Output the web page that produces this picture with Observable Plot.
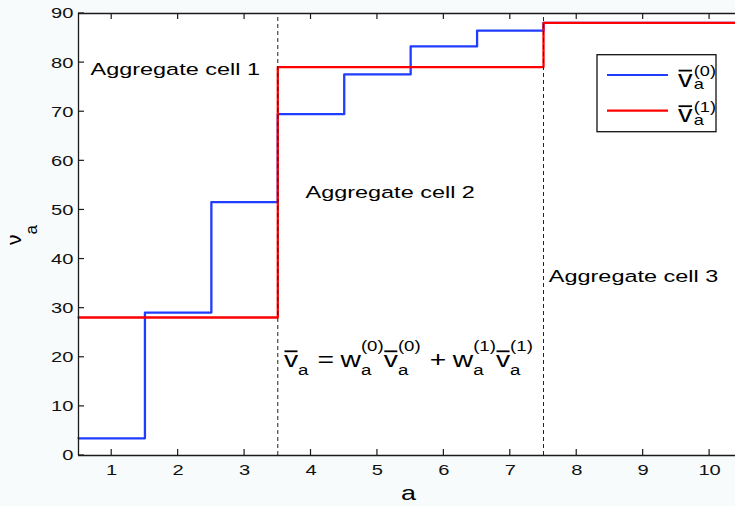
<!DOCTYPE html>
<html>
<head>
<meta charset="utf-8">
<script src="https://cdn.jsdelivr.net/npm/d3@7"></script>
<script src="https://cdn.jsdelivr.net/npm/@observablehq/plot@0.6"></script>
<style>
  html, body { margin: 0; padding: 0; background: #f7fbfc; overflow: hidden; }
</style>
</head>
<body>
<div id="chart"></div>
<script>
// ---------------- data ----------------
const cells = [1, 2, 3, 4, 5, 6, 7, 8, 9, 10];
const v0 = [3.5, 29.1, 51.6, 69.5, 77.6, 83.3, 86.5, 88.1, 88.1, 88.1];   // \bar v_a^{(0)}
const v1 = [28.1, 28.1, 28.1, 79.1, 79.1, 79.1, 79.1, 88.1, 88.1, 88.1];  // \bar v_a^{(1)}
const cellBounds = [3.5, 7.5];
const xTicks = [1, 2, 3, 4, 5, 6, 7, 8, 9, 10];
const yTicks = [0, 10, 20, 30, 40, 50, 60, 70, 80, 90];
const cellLabels = ["Aggregate cell 1", "Aggregate cell 2", "Aggregate cell 3"];
const seriesSup = ["(0)", "(1)"];

const FONT = "'Liberation Sans', Arial, Helvetica, sans-serif";
const BLUE = "#1f3cff", RED = "#ff0000";

function steps(vals) {
  const pts = vals.map((v, i) => ({a: cells[i] - 0.5, v}));
  pts.push({a: cells[cells.length - 1] + 0.5, v: vals[vals.length - 1]});
  return pts;
}

// text measurement helper
const measureSvg = d3.select(document.body).append("svg")
  .attr("width", 1).attr("height", 1)
  .style("position", "absolute").style("left", "-9999px");
function tw(str, size) {
  const t = measureSvg.append("text").attr("font-family", FONT).attr("font-size", size)
    .attr("text-anchor", "start").text(str);
  const w = t.node().getComputedTextLength();
  t.remove();
  return w;
}

// simple TeX-like layout: base glyph with optional overline, sub and sup
function mathGroup(tokens, o) {
  const g = d3.create("svg:g").attr("font-family", FONT).attr("fill", "#000").attr("text-anchor", "start");
  let x = 0;
  for (const tk of tokens) {
    x += tk.pre || 0;
    const size = tk.size || o.size;
    const w = tw(tk.t, size);
    g.append("text").attr("x", x).attr("y", 0).attr("font-size", size).text(tk.t);
    if (tk.over) {
      g.append("line").attr("x1", x + w * 0.04).attr("x2", x + w * 0.96)
        .attr("y1", o.overY).attr("y2", o.overY)
        .attr("stroke", "#000").attr("stroke-width", 1.8);
    }
    let sw = 0;
    if (tk.sub) {
      g.append("text").attr("x", x + w + (o.subDx || 0)).attr("y", o.subDy).attr("font-size", o.small).text(tk.sub);
      sw = Math.max(sw, tw(tk.sub, o.small) + (o.subDx || 0));
    }
    if (tk.sup) {
      g.append("text").attr("x", x + w + (o.supDx || 0)).attr("y", o.supDy).attr("font-size", o.small).text(tk.sup);
      sw = Math.max(sw, tw(tk.sup, o.small) + (o.supDx || 0));
    }
    x += w + sw + (tk.post || 0);
  }
  return {g, width: x};
}

function place(parent, m, x0, y0, targetWidth) {
  const k = targetWidth ? targetWidth / m.width : 1;
  parent.append(() => m.g.node()).attr("transform", `translate(${x0},${y0}) scale(${k},1)`);
}

// decorations drawn through the plot's scales
function decorations(index, scales, values, dims) {
  const X = scales.x, Y = scales.y;
  const root = d3.create("svg:g").attr("class", "deco").attr("text-anchor", "start");
  const tick = 6;
  const top = Y(90), bottom = Y(0), left = X(0.5);
  for (const t of xTicks) {
    root.append("line").attr("x1", X(t)).attr("x2", X(t)).attr("y1", bottom).attr("y2", bottom - tick)
      .attr("stroke", "#1a1a1a").attr("stroke-width", 1.2);
    root.append("line").attr("x1", X(t)).attr("x2", X(t)).attr("y1", top).attr("y2", top + tick)
      .attr("stroke", "#1a1a1a").attr("stroke-width", 1.2);
  }
  for (const t of yTicks) {
    root.append("line").attr("x1", left).attr("x2", left + tick).attr("y1", Y(t)).attr("y2", Y(t))
      .attr("stroke", "#1a1a1a").attr("stroke-width", 1.2);
  }

  // legend
  const bx = 597, by = 54.7, bw = 119, bh = 77;
  root.append("rect").attr("x", bx).attr("y", by).attr("width", bw).attr("height", bh)
    .attr("fill", "white").attr("stroke", "#111").attr("stroke-width", 1.3);
  const colors = [BLUE, RED];
  const rowY = [75, 110.7];
  const baseY = [86.6, 122.2];
  seriesSup.forEach((sup, i) => {
    root.append("line").attr("x1", 607).attr("x2", 668).attr("y1", rowY[i]).attr("y2", rowY[i])
      .attr("stroke", colors[i]).attr("stroke-width", 2.2);
    const m = mathGroup([{t: "v", over: true, sub: "a", sup}],
      {size: 24, small: 15, subDy: 2.6, supDy: -10.5, overY: -16, supDx: 1, subDx: 1});
    place(root, m, 678, baseY[i], 38);
  });

  // equation
  const eq = mathGroup([
    {t: "v", over: true, sub: "a"},
    {t: "=", pre: 7, post: 5},
    {t: "w", sub: "a", sup: "(0)"},
    {t: "v", over: true, sub: "a", sup: "(0)"},
    {t: "+", pre: 7, post: 5},
    {t: "w", sub: "a", sup: "(1)"},
    {t: "v", over: true, sub: "a", sup: "(1)"}
  ], {size: 22, small: 14.5, subDy: 8.3, supDy: -16.5, overY: -15.8});
  place(root, eq, X(3.6), Y(17.9), 249);

  // axis labels
  root.append("text").attr("font-family", FONT).attr("font-size", 20).attr("fill", "#000")
    .attr("text-anchor", "middle")
    .attr("transform", `translate(${(X(0.5) + dims.width) / 2 + 2},500) scale(1.35,1)`).text("a");
  const yl = root.append("g").attr("font-family", FONT).attr("fill", "#000").attr("text-anchor", "start")
    .attr("transform", "translate(20.8,245) rotate(-90)");
  yl.append("text").attr("font-size", 21).text("ν");
  yl.append("text").attr("font-size", 17).attr("x", tw("ν", 21)).attr("y", 16.3).text("a");
  return root.node();
}

const chart = Plot.plot({
  width: 735,
  height: 506,
  marginLeft: 78,
  marginRight: 0,
  marginTop: 13,
  marginBottom: 51,
  x: {domain: [0.5, 10.39], label: null},
  y: {domain: [0, 90], label: null},
  style: {background: "#f7fbfc", fontFamily: FONT, fontSize: "15.5px", color: "#111", overflow: "hidden"},
  marks: [
    Plot.frame({fill: "white", stroke: null}),
    Plot.line(steps(v0), {x: "a", y: "v", curve: "step-after", stroke: BLUE, strokeWidth: 2.3}),
    Plot.line(steps(v1), {x: "a", y: "v", curve: "step-after", stroke: RED, strokeWidth: 2.3}),
    Plot.ruleX(cellBounds, {y1: 0, y2: 90, stroke: "#222", strokeWidth: 1, strokeDasharray: "4,3"}),
    Plot.ruleY([0, 90], {stroke: "#1a1a1a", strokeWidth: 1.3}),
    Plot.ruleX([0.5], {stroke: "#1a1a1a", strokeWidth: 1.3}),
    Plot.axisX(xTicks, {anchor: "bottom", tickSize: 0, tickPadding: 8, label: null}),
    Plot.axisY(yTicks, {anchor: "left", tickSize: 0, tickPadding: 5, label: null}),
    Plot.text(cellLabels, {
      x: [0.681, 3.917, 7.58],
      y: [77.4, 52.4, 35.3],
      text: d => d,
      textAnchor: "start",
      lineAnchor: "bottom",
      fontSize: 16.5,
      fill: "#000"
    }),
    decorations
  ]
});

document.getElementById("chart").appendChild(chart);

// horizontal stretch of text to match the reference's wide glyphs
function stretch(sel, kf) {
  sel.each(function () {
    const k = typeof kf === "function" ? kf(this) : kf;
    const tr = this.getAttribute("transform");
    if (tr && tr.includes("translate")) {
      this.setAttribute("transform", tr + ` scale(${k},1)`);
    } else {
      const x = +this.getAttribute("x") || 0, y = +this.getAttribute("y") || 0;
      this.removeAttribute("x"); this.removeAttribute("y");
      this.setAttribute("transform", `translate(${x},${y}) scale(${k},1)` + (tr ? " " + tr : ""));
    }
  });
}
const svg = d3.select(chart);
stretch(svg.selectAll('g[aria-label$="tick label"] text'), 1.3);
stretch(svg.selectAll('g[aria-label="text"] text'), el => 169.5 / el.getComputedTextLength());
measureSvg.remove();
</script>
</body>
</html>
